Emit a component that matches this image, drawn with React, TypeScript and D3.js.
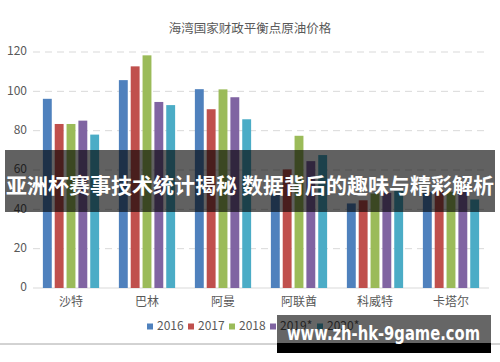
import React from 'react';
import * as d3 from 'd3';

const countries = ['沙特', '巴林', '阿曼', '阿联酋', '科威特', '卡塔尔'];
const years = ['2016', '2017', '2018', '2019*', '2020*'];
const colors = ['#4f81bd', '#c0504d', '#9bbb59', '#8064a2', '#4bacc6'];

// one array per year, in the order of countries
const v2016 = [96.2, 105.7, 101.1, 48, 43, 48.9];
const v2017 = [83.4, 112.7, 90.9, 60.3, 44.6, 49.4];
const v2018 = [83.4, 118.3, 101, 77.4, 48, 48.9];
const v2019 = [85.1, 94.6, 97, 64.5, 48.4, 48.9];
const v2020 = [78, 93, 85.8, 67.6, 49.4, 45];
const seriesValues = [v2016, v2017, v2018, v2019, v2020];

const yTicks = [0, 20, 40, 60, 80, 100, 120];

const title = '海湾国家财政平衡点原油价格';
const banner = '亚洲杯赛事技术统计揭秘 数据背后的趣味与精彩解析';
const watermark = 'www.zh-hk-9game.com';

const W = 500, H = 362;
const font = '"Noto Sans CJK SC", "Noto Sans", sans-serif';

export default function App() {
  const x0 = d3.scaleBand().domain(countries).range([33, 489]).paddingInner(0.26).paddingOuter(0.13);
  const x1 = d3.scaleBand().domain(years).range([0, x0.bandwidth()]).paddingInner(0.25);
  const y = d3.scaleLinear().domain([0, 120]).range([288, 52]);

  // legend layout
  const legendW = [38, 38, 38, 44, 44];
  let lx = 147;
  const legendX = legendW.map(w => { const p = lx; lx += w + 3; return p; });

  return (
    <svg width={W} height={H} style={{ position: 'absolute', left: 0, top: 0, background: '#fff' }} fontFamily={font}>
      <rect width={W} height={H} fill="#fff" />
      <text x={250} y={30} textAnchor="middle" dominantBaseline="middle" fontSize={12.5} fill="#595959">{title}</text>

      {yTicks.map(t => (
        <g key={t}>
          {t > 0 && (
            <line x1={33} x2={489} y1={y(t)} y2={y(t)} stroke="#d9d9d9" strokeWidth={1} strokeDasharray="7,5" />
          )}
          <text x={27} y={y(t)} textAnchor="end" dominantBaseline="middle" fontSize={12} fill="#595959">{t}</text>
        </g>
      ))}
      <line x1={33} x2={489} y1={y(0)} y2={y(0)} stroke="#d9d9d9" />

      {countries.map((c, ci) => (
        <g key={c} transform={`translate(${x0(c)},0)`}>
          {years.map((yr, si) => {
            const v = seriesValues[si][ci];
            return (
              <rect key={yr} x={x1(yr)} y={y(v)} width={x1.bandwidth()} height={y(0) - y(v)} fill={colors[si]} />
            );
          })}
          <text x={x0.bandwidth() / 2} y={303} textAnchor="middle" dominantBaseline="middle" fontSize={12} fill="#595959">{c}</text>
        </g>
      ))}

      {years.map((yr, i) => (
        <g key={yr} transform={`translate(${legendX[i]},327)`}>
          <rect x={0} y={-3.5} width={6} height={6} fill={colors[i]} />
          <text x={10} y={0} dominantBaseline="middle" fontSize={12} fill="#595959">{yr}</text>
        </g>
      ))}

      <line x1={0} x2={W} y1={344} y2={344} stroke="#a6a6a6" strokeWidth={1} />

      <rect x={5} y={150} width={490} height={62} fill="rgba(0,0,0,0.62)" />
      <text x={250} y={187} textAnchor="middle" dominantBaseline="middle" fontSize={21} fontWeight="bold" fill="#fff" textLength={488} lengthAdjust="spacingAndGlyphs">{banner}</text>

      <rect x={277} y={315} width={214} height={28} fill="rgba(0,0,0,0.6)" />
      <rect x={277} y={343} width={214} height={10} fill="#000" />
      <text x={287} y={340} fontSize={19} fontWeight="bold" fill="#fff" fontFamily='"DejaVu Sans", sans-serif' textLength={193} lengthAdjust="spacingAndGlyphs">{watermark}</text>
    </svg>
  );
}
